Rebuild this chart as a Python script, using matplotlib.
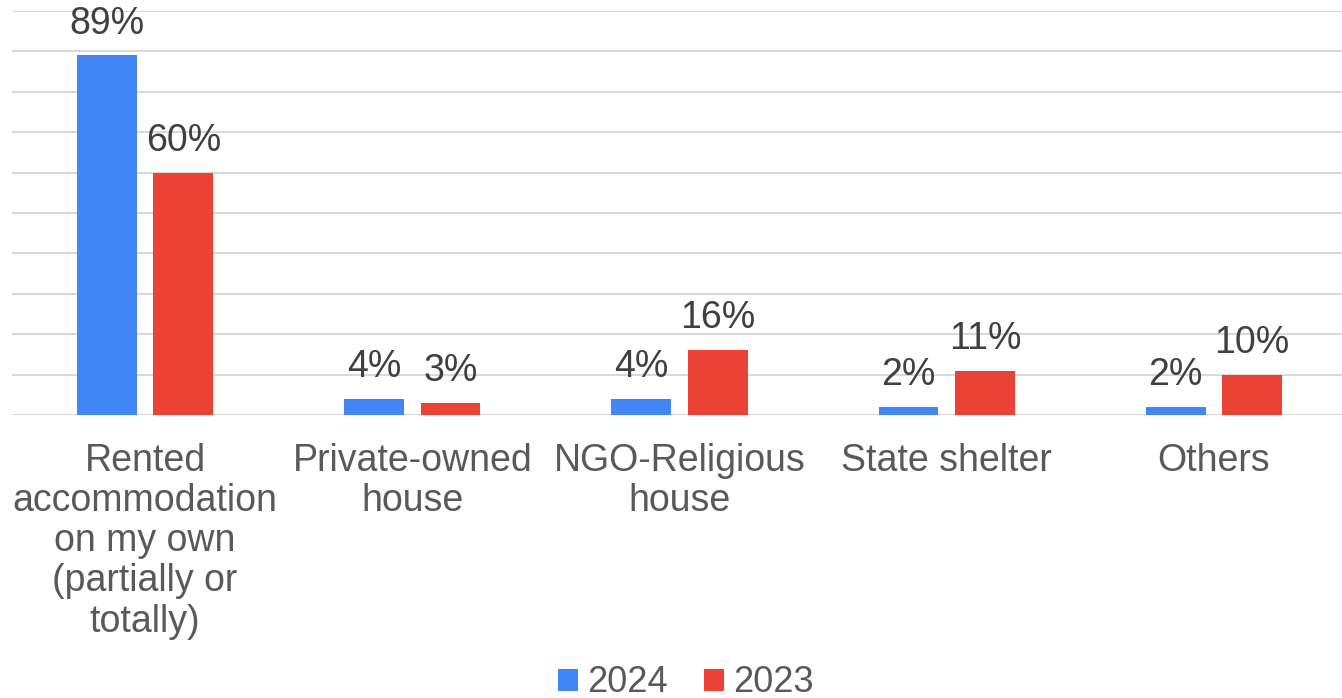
import numpy as np
import matplotlib.pyplot as plt

plt.rcParams['font.family'] = ['Liberation Sans', 'DejaVu Sans']

# data
categories = ['Rented\naccommodation\non my own\n(partially or\ntotally)',
              'Private-owned\nhouse', 'NGO-Religious\nhouse', 'State shelter', 'Others']
vals_2024 = [89, 4, 4, 2, 2]
vals_2023 = [60, 3, 16, 11, 10]
series_names = ['2024', '2023']

blue = '#4285F4'
red = '#EA4335'

fig = plt.figure(figsize=(13.42, 6.98), dpi=100)
ax = fig.add_axes([11.5/1342, 1 - 415/698, 1336/1342, (415-11)/698])

x = np.arange(len(categories))
w = 0.224
off = 0.143
b1 = ax.bar(x - off, vals_2024, w, color=blue, label=series_names[0], zorder=3)
b2 = ax.bar(x + off, vals_2023, w, color=red, label=series_names[1], zorder=3)

for bars, vals in [(b1, vals_2024), (b2, vals_2023)]:
    for b, v in zip(bars, vals):
        ax.annotate('{}%'.format(v), (b.get_x() + b.get_width()/2, v),
                    xytext=(0, 10), textcoords='offset points',
                    ha='center', va='bottom', fontsize=27, color='#404040')

ax.set_xlim(-0.5, 4.5)
ax.set_ylim(0, 100)
ax.set_yticks(np.arange(0, 101, 10))
ax.set_yticklabels([])
ax.tick_params(axis='y', length=0)
ax.grid(axis='y', color='#d9d9d9', linewidth=1.5, zorder=0)
ax.set_xticks(x)
ax.set_xticklabels(categories, fontsize=27, color='#595959', linespacing=1.15)
ax.tick_params(axis='x', length=0, pad=20)
for s in ax.spines.values():
    s.set_visible(False)

fig.legend(loc='center', bbox_to_anchor=(686/1342, 1 - 683/698), ncol=2, frameon=False,
           fontsize=26, labelcolor='#595959', handlelength=0.55, handleheight=0.55,
           handletextpad=0.25, columnspacing=1.0, borderpad=0)

fig.savefig('out.png', dpi=100)
